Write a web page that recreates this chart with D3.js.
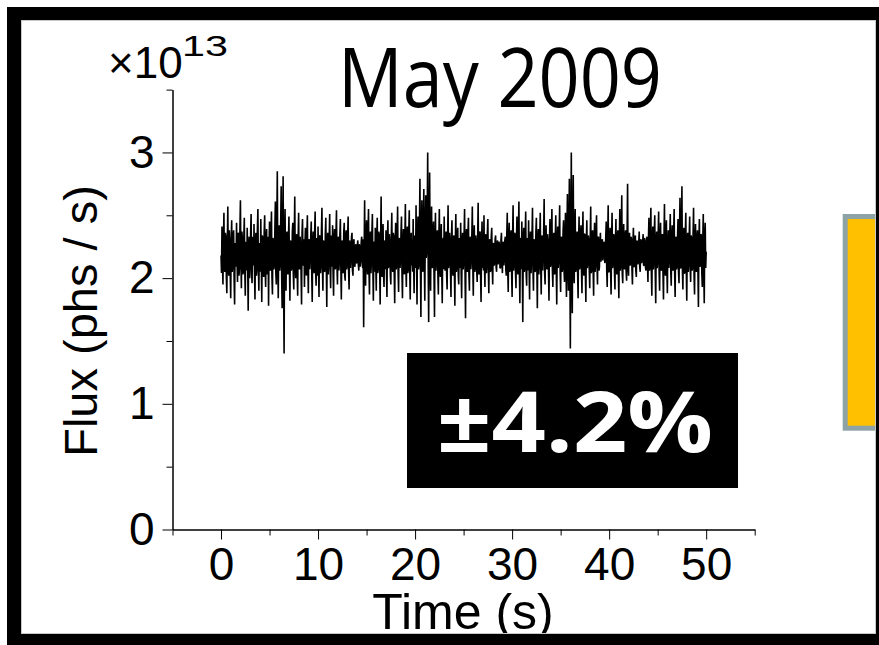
<!DOCTYPE html>
<html>
<head>
<meta charset="utf-8">
<script src="https://cdn.jsdelivr.net/npm/d3@7"></script>
<style>
  body { margin: 0; background: #fff; }
  svg { display: block; }
</style>
</head>
<body>
<div id="chart"></div>
<script>
// flux samples, x10^13 phs/s, one row per second, 0.05 s apart
var timeStep = 0.05;
var fluxValues = [
  2.18,2.04,2.41,2.12,1.95,2.30,2.52,2.08,2.05,2.36,2.33,2.01,1.88,2.27,2.57,2.10,2.02,2.38,2.29,2.03,
  1.84,2.31,2.46,2.05,2.11,2.34,2.38,1.99,1.79,2.28,2.25,2.09,2.44,2.14,1.97,2.35,2.36,2.02,2.08,2.40,
  2.62,2.13,1.92,2.37,2.31,2.03,2.05,2.32,2.48,2.07,1.86,2.29,2.27,2.06,2.40,2.11,1.74,2.26,2.33,2.00,
  2.12,2.35,2.51,2.04,1.96,2.33,2.29,2.10,2.43,2.06,1.83,2.30,2.36,2.02,2.07,2.39,2.55,2.09,1.90,2.28,
  2.24,2.05,2.47,2.13,1.81,2.34,2.32,2.04,2.01,2.37,2.50,2.08,1.93,2.31,2.39,2.03,2.15,2.33,1.78,2.26,
  2.45,2.09,2.06,2.35,2.53,2.01,1.87,2.32,2.30,2.07,2.11,2.38,2.61,2.04,1.95,2.41,2.85,2.12,1.84,2.30,
  2.42,2.06,2.12,2.44,2.73,2.02,1.76,2.35,2.81,1.98,1.40,2.27,2.55,2.08,1.90,2.33,2.37,2.05,2.03,2.31,
  2.49,2.10,1.82,2.30,2.28,2.06,2.09,2.37,2.44,2.03,1.91,2.34,2.65,2.11,2.00,2.29,2.35,2.04,1.86,2.32,
  2.52,2.08,2.07,2.33,2.26,2.05,1.79,2.36,2.47,2.10,2.14,2.31,1.93,2.27,2.40,2.06,2.02,2.35,2.50,2.09,
  1.88,2.30,2.31,2.07,2.19,2.34,2.45,2.03,1.81,2.29,2.37,2.08,2.04,2.36,2.53,2.05,1.94,2.32,2.28,2.02,
  2.41,2.07,1.85,2.33,2.34,2.04,2.10,2.38,2.56,2.09,1.90,2.30,2.29,2.05,2.06,2.35,2.48,2.11,1.77,2.28,
  2.36,2.03,2.13,2.32,2.51,2.06,1.92,2.34,2.27,2.09,2.42,2.04,1.86,2.31,2.39,2.07,2.08,2.36,2.54,2.10,
  1.95,2.29,2.33,2.06,2.15,2.35,2.47,2.08,1.83,2.27,2.30,2.04,2.05,2.37,2.44,2.02,1.98,2.33,2.38,2.07,
  2.11,2.34,2.49,2.05,1.91,2.30,2.26,2.08,2.18,2.33,2.36,2.06,2.02,2.28,2.31,2.10,2.09,2.25,2.27,2.12,
  2.12,2.26,2.30,2.11,2.06,2.27,2.24,2.09,2.15,2.29,2.33,2.13,2.08,2.31,1.61,2.20,2.62,2.07,1.94,2.34,
  2.46,2.09,2.03,2.35,2.55,2.06,1.87,2.31,2.37,2.04,2.14,2.36,2.51,2.08,1.82,2.28,2.29,2.05,2.40,2.11,
  1.90,2.32,2.48,2.04,2.07,2.37,2.35,2.09,1.79,2.30,2.65,2.06,2.01,2.34,2.43,2.03,1.93,2.29,2.30,2.07,
  2.38,2.05,1.85,2.31,2.46,2.08,2.12,2.35,2.28,2.02,1.95,2.33,2.52,2.10,2.05,2.36,2.34,2.04,1.80,2.27,
  2.44,2.07,2.10,2.34,2.57,2.05,1.89,2.30,2.32,2.08,2.16,2.37,2.49,2.03,1.84,2.29,2.39,2.06,2.03,2.33,
  2.59,2.09,1.93,2.32,2.41,2.04,2.07,2.36,2.54,2.06,1.83,2.30,2.36,2.10,2.20,2.05,2.47,2.12,1.88,2.34,
  2.31,2.08,2.58,2.14,1.79,2.36,2.49,2.07,2.11,2.40,2.79,2.10,1.69,2.33,2.62,2.12,2.05,2.42,2.71,2.15,
  1.82,2.35,2.66,2.16,2.22,2.48,3.00,2.11,1.65,2.39,2.84,2.13,1.90,2.41,2.57,2.08,2.09,2.37,2.45,2.04,
  1.69,2.30,2.52,2.06,2.14,2.35,2.38,2.03,1.87,2.32,2.55,2.09,2.01,2.31,2.43,2.05,1.80,2.28,2.32,2.07,
  2.49,2.10,2.06,2.34,2.37,2.03,1.91,2.29,2.58,2.08,2.13,2.36,2.30,2.04,1.85,2.33,2.46,2.09,2.02,2.31,
  2.34,2.06,1.78,2.30,2.51,2.05,2.09,2.35,2.40,2.02,1.95,2.32,2.27,2.08,2.44,2.04,1.84,2.29,2.36,2.07,
  2.12,2.33,2.55,2.04,1.68,2.31,2.39,2.08,2.05,2.36,2.48,2.03,1.90,2.30,2.33,2.07,2.15,2.35,2.57,2.09,
  1.86,2.30,2.42,2.05,2.08,2.34,2.29,2.06,1.97,2.33,2.60,2.04,2.03,2.36,2.37,2.02,1.81,2.28,2.45,2.08,
  2.17,2.06,2.50,2.09,1.93,2.32,2.35,2.04,2.10,2.36,2.47,2.07,1.88,2.30,2.31,2.05,2.06,2.33,2.40,2.10,
  1.95,2.26,2.28,2.10,2.12,2.31,2.34,2.09,2.05,2.27,2.30,2.11,2.14,2.29,2.25,2.08,2.08,2.30,2.36,2.12,
  2.04,2.28,2.29,2.10,2.16,2.30,2.33,2.07,2.02,2.34,2.52,2.06,1.89,2.31,2.44,2.05,2.07,2.35,2.38,2.03,
  1.85,2.33,2.58,2.06,2.11,2.36,2.35,2.04,1.92,2.31,2.49,2.08,2.03,2.34,2.61,2.05,1.80,2.29,2.32,2.07,
  2.45,2.09,1.65,2.30,2.40,2.05,2.08,2.35,2.53,2.03,1.94,2.32,2.27,2.06,2.46,2.10,1.83,2.31,2.37,2.04,
  2.14,2.34,2.56,2.07,1.90,2.29,2.31,2.05,2.06,2.37,2.48,2.09,1.76,2.30,2.39,2.03,2.10,2.33,2.52,2.08,
  1.87,2.31,2.34,2.06,2.18,2.36,2.63,2.04,1.95,2.32,2.42,2.08,2.07,2.35,2.29,2.05,1.82,2.30,2.47,2.09,
  2.12,2.35,2.55,2.06,1.93,2.31,2.36,2.03,2.04,2.33,2.50,2.07,1.79,2.29,2.41,2.08,2.15,2.36,2.58,2.04,
  1.89,2.30,2.33,2.05,2.08,2.37,2.46,2.06,1.97,2.34,2.52,2.09,1.85,2.38,2.67,2.10,1.90,2.41,2.79,2.14,
  1.44,2.35,3.00,2.06,1.72,2.44,2.82,2.08,1.96,2.39,2.55,2.05,2.08,2.33,2.37,2.04,1.84,2.30,2.49,2.07,
  2.10,2.33,2.42,2.05,1.88,2.31,2.53,2.07,2.02,2.35,2.35,2.04,1.81,2.29,2.46,2.08,2.13,2.34,2.30,2.06,
  1.92,2.31,2.57,2.04,2.06,2.35,2.38,2.07,1.86,2.30,2.44,2.05,2.11,2.36,2.50,2.09,1.95,2.32,2.33,2.06,
  2.09,2.27,2.36,2.13,2.17,2.30,2.31,2.14,2.20,2.29,2.28,2.12,2.14,2.33,2.45,2.06,1.93,2.32,2.58,2.05,
  2.05,2.31,2.40,2.06,1.87,2.30,2.52,2.08,2.12,2.35,2.34,2.04,1.91,2.29,2.47,2.07,2.03,2.33,2.38,2.05,
  1.84,2.30,2.55,2.06,2.10,2.36,2.66,2.04,1.96,2.32,2.43,2.08,2.07,2.34,2.38,2.05,1.98,2.37,2.75,2.09,
  2.02,2.30,2.36,2.10,2.12,2.33,2.31,2.07,1.95,2.28,2.40,2.09,2.09,2.32,2.34,2.06,2.01,2.30,2.29,2.11,
  2.13,2.29,2.37,2.09,2.05,2.31,2.30,2.12,2.15,2.28,2.35,2.10,2.10,2.32,2.28,2.08,2.06,2.30,2.33,2.11,
  1.97,2.32,2.48,2.06,2.08,2.35,2.56,2.04,1.86,2.31,2.41,2.07,2.12,2.36,2.50,2.05,1.80,2.29,2.37,2.08,
  2.14,2.33,2.53,2.05,1.90,2.30,2.44,2.07,2.06,2.34,2.35,2.03,1.83,2.31,2.59,2.08,2.02,2.36,2.46,2.06,
  1.88,2.29,2.38,2.08,2.16,2.35,2.51,2.05,1.94,2.32,2.42,2.06,2.07,2.37,2.55,2.04,1.85,2.30,2.33,2.07,
  2.10,2.34,2.47,2.05,1.96,2.36,2.64,2.08,2.08,2.39,2.73,2.06,1.91,2.31,2.40,2.04,2.04,2.35,2.52,2.07,
  1.82,2.30,2.36,2.05,2.12,2.33,2.49,2.08,1.97,2.34,2.31,2.06,2.09,2.35,2.56,2.03,1.87,2.29,2.43,2.07,
  2.05,2.32,2.38,2.06,1.77,2.30,2.47,2.09,2.11,2.35,2.34,2.04,1.93,2.31,2.51,2.07,1.80,2.33,2.44,2.08,
  2.21
];

var xMajorTicks = [0, 10, 20, 30, 40, 50];
var xMinorTicks = [-5, 5, 15, 25, 35, 45, 55];
var yMajorTicks = [0, 1, 2, 3];
var yMinorTicks = [0.5, 1.5, 2.5, 3.5];

var titleText = "May 2009";
var badgeText = "\u00b14.2%";
var xLabel = "Time (s)";
var yLabel = "Flux (phs / s)";

var width = 879, height = 645;

var svg = d3.select("#chart")
    .append("svg")
    .attr("width", width)
    .attr("height", height);

// scales
var x = d3.scaleLinear().domain([-5, 55]).range([172.5, 754.7]);
var y = d3.scaleLinear().domain([0, 3.5]).range([529.5, 89.6]);

// trace
var line = d3.line()
    .x(function (d, i) { return x(i * timeStep); })
    .y(function (d) { return y(d); });

svg.append("path")
    .datum(fluxValues)
    .attr("d", line)
    .attr("fill", "none")
    .attr("stroke", "#000")
    .attr("stroke-width", 1.6)
    .attr("stroke-linejoin", "bevel");

// axes
var tickFont = "'Liberation Sans', Arial, sans-serif";

svg.append("g")
    .attr("transform", "translate(172.5,0)")
    .call(d3.axisLeft(y).tickValues(yMajorTicks).tickSize(10).tickSizeOuter(0).tickPadding(8).tickFormat(d3.format("d")));
svg.append("g")
    .attr("transform", "translate(172.5,0)")
    .call(d3.axisLeft(y).tickValues(yMinorTicks).tickSize(6).tickSizeOuter(0).tickFormat(""));

svg.append("g")
    .attr("transform", "translate(0,529.5)")
    .call(d3.axisBottom(x).tickValues(xMajorTicks).tickSize(10).tickSizeOuter(0).tickPadding(8).tickFormat(d3.format("d")));
svg.append("g")
    .attr("transform", "translate(0,529.5)")
    .call(d3.axisBottom(x).tickValues(xMinorTicks).tickSize(6).tickSizeOuter(0).tickFormat(""));

svg.selectAll(".tick text")
    .attr("font-family", tickFont)
    .attr("font-size", 46)
    .attr("fill", "#000");
svg.selectAll(".domain, .tick line").attr("stroke", "#000").attr("stroke-width", 1);

// axis labels
svg.append("text")
    .attr("x", 463)
    .attr("y", 629)
    .attr("text-anchor", "middle")
    .attr("font-family", tickFont)
    .attr("font-size", 50)
    .text(xLabel);

svg.append("text")
    .attr("transform", "translate(97,321) rotate(-90)")
    .attr("text-anchor", "middle")
    .attr("font-family", tickFont)
    .attr("font-size", 47)
    .text(yLabel);

// x10^13 multiplier
svg.append("text")
    .attr("x", 108)
    .attr("y", 78)
    .attr("font-family", tickFont)
    .attr("font-size", 44)
    .text("\u00d710");
svg.append("text")
    .attr("x", 182)
    .attr("y", 56)
    .attr("font-family", tickFont)
    .attr("font-size", 30)
    .attr("textLength", 46)
    .attr("lengthAdjust", "spacingAndGlyphs")
    .text("13");

// title
svg.append("text")
    .attr("x", 338)
    .attr("y", 107)
    .attr("font-family", "'Open Sans', sans-serif")
    .attr("font-size", 83)
    .attr("textLength", 324)
    .attr("lengthAdjust", "spacingAndGlyphs")
    .text(titleText);

// badge
svg.append("rect")
    .attr("x", 407)
    .attr("y", 353)
    .attr("width", 331)
    .attr("height", 135)
    .attr("fill", "#000");
svg.append("text")
    .attr("x", 437)
    .attr("y", 452)
    .attr("font-family", "'Open Sans', sans-serif")
    .attr("font-weight", "bold")
    .attr("font-size", 85)
    .attr("fill", "#fff")
    .attr("textLength", 276)
    .attr("lengthAdjust", "spacingAndGlyphs")
    .text(badgeText);

// yellow box at the right edge
svg.append("rect")
    .attr("x", 845.2)
    .attr("y", 216.5)
    .attr("width", 60)
    .attr("height", 211.7)
    .attr("fill", "#FFC000")
    .attr("stroke", "#8EA3A6")
    .attr("stroke-width", 5);

// slide frame on top
svg.append("path")
    .attr("d", "M7,7H" + (width + 20) + "V" + (height + 20) + "H7Z M21,20V634H876V20Z")
    .attr("fill", "#000")
    .attr("fill-rule", "evenodd");
svg.append("rect")
    .attr("x", 21.5)
    .attr("y", 20.5)
    .attr("width", 854)
    .attr("height", 613)
    .attr("fill", "none")
    .attr("stroke", "#c8c8c8")
    .attr("stroke-width", 1);
</script>
</body>
</html>
